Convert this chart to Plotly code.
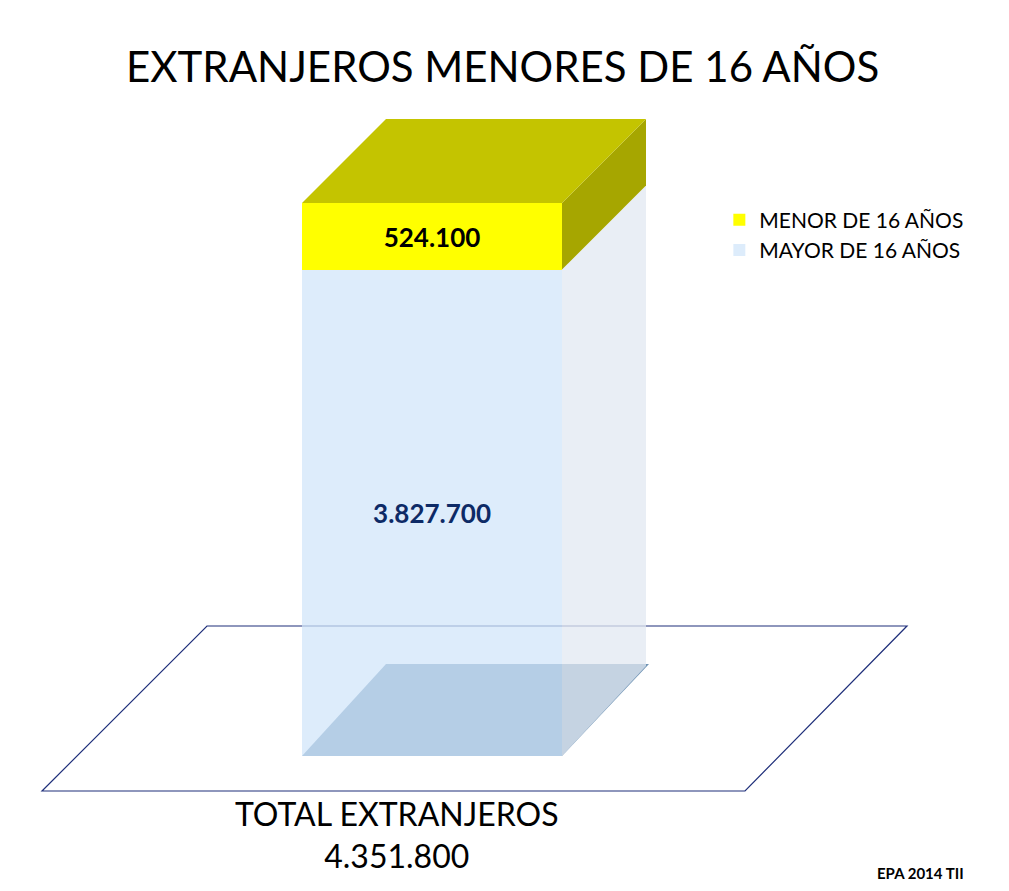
import plotly.graph_objects as go

# ---- data ----
categories = ["TOTAL EXTRANJEROS"]
mayor_16 = [3827700]
menor_16 = [524100]
series_names = ["MENOR DE 16 AÑOS", "MAYOR DE 16 AÑOS"]
source_note = "EPA 2014 TII"


def fmt(v):
    return f"{v:,}".replace(",", ".")


total = mayor_16[0] + menor_16[0]

# ---- geometry (x axis in pixel-like units, y axis in persons) ----
W, H = 1009, 891
PAD = 8                                  # page body margin offset
base_px, top_px = 740, 187
s = total / (base_px - top_px)          # persons per pixel
y_lo, y_hi = -(H - base_px - PAD) * s, (base_px + PAD) * s
bx, bw = 432, 260                        # bar centre and width
dx, dy = 84, 84 * s                      # 3D depth offset
x0, x1 = bx - bw / 2, bx + bw / 2

fig = go.Figure()
fig.add_trace(go.Bar(
    x=[bx], y=mayor_16, width=bw, name=series_names[1],
    marker=dict(color="rgba(208,228,250,0.72)", line=dict(width=0)),
    text=[f"<b>{fmt(mayor_16[0])}</b>"], textposition="inside", insidetextanchor="middle",
    textfont=dict(color="#0d2a66", size=26, family="Lato"),
))
fig.add_trace(go.Bar(
    x=[bx], y=menor_16, width=bw, name=series_names[0],
    marker=dict(color="#ffff00", line=dict(width=0)),
    text=[f"<b>{fmt(menor_16[0])}</b>"], textposition="inside", insidetextanchor="middle",
    textfont=dict(color="black", size=26, family="Lato"),
))


def path(pts):
    return "M " + " L ".join(f"{a},{b}" for a, b in pts) + " Z"


m = mayor_16[0]
shapes = [
    # floor plane
    dict(type="path", layer="below", line=dict(color="#1f2f7a", width=1.2),
         fillcolor="rgba(255,255,255,0)",
         path=path([(42, -35 * s), (745, -35 * s), (907, 130 * s), (207, 130 * s)])),
    # shadow on floor
    dict(type="path", layer="below", line=dict(width=0), fillcolor="#6f93b4",
         path=path([(x0, 0), (x0 + dx, 92 * s), (x1 + dx + 3, 92 * s), (x1, 0)])),
    # side of blue part
    dict(type="path", layer="above", line=dict(width=0), fillcolor="rgba(225,232,242,0.75)",
         path=path([(x1, 0), (x1 + dx, 90 * s), (x1 + dx, m + dy), (x1, m)])),
    # side of yellow part
    dict(type="path", layer="above", line=dict(width=0), fillcolor="#a6a600",
         path=path([(x1, m), (x1 + dx, m + dy), (x1 + dx, total + dy), (x1, total)])),
    # top face
    dict(type="path", layer="above", line=dict(width=0), fillcolor="#c4c400",
         path=path([(x0, total), (x0 + dx, total + dy), (x1 + dx, total + dy), (x1, total)])),
]

fig.update_layout(
    width=W, height=H, barmode="stack", bargap=0,
    margin=dict(l=0, r=0, t=0, b=0),
    paper_bgcolor="white", plot_bgcolor="white",
    xaxis=dict(range=[PAD, W + PAD], visible=False, fixedrange=True),
    yaxis=dict(range=[y_lo, y_hi], visible=False, fixedrange=True),
    shapes=shapes,
    showlegend=True,
    legend=dict(x=0.705, y=0.785, xanchor="left", yanchor="top", traceorder="reversed",
                font=dict(family="Lato", size=21, color="black"), itemwidth=30,
                bgcolor="rgba(0,0,0,0)", tracegroupgap=18),
    font=dict(family="Lato"),
    annotations=[
        dict(text="EXTRANJEROS MENORES DE 16 AÑOS", x=0.49, y=(H - 58) / H, xref="paper", yref="paper",
             showarrow=False, font=dict(size=42, color="black", family="Lato"),
             xanchor="center", yanchor="middle"),
        dict(text=f"{categories[0]}<br>{fmt(total)}", x=397, y=-(818 - base_px) * s,
             showarrow=False, font=dict(size=32, color="black", family="Lato"),
             xanchor="center", yanchor="middle"),
        dict(text=f"<b>{source_note}</b>", x=920, y=-(857 - base_px) * s, showarrow=False,
             font=dict(size=15, color="black", family="Lato")),
    ],
)

fig.write_html("out.html")
